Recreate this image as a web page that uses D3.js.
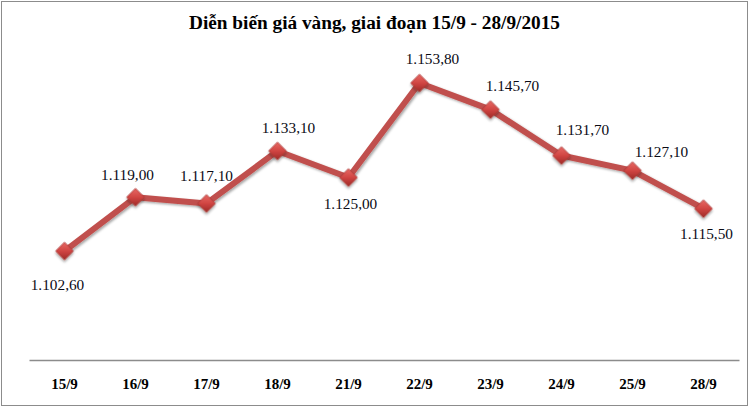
<!DOCTYPE html>
<html>
<head>
<meta charset="utf-8">
<script src="https://cdn.jsdelivr.net/npm/d3@7"></script>
<style>
  body { margin: 0; background: #fff; }
  svg { display: block; }
  svg text { font-family: "Liberation Serif", "Times New Roman", serif; }
</style>
</head>
<body>
<svg id="chart"></svg>
<script>
const dates = ["15/9", "16/9", "17/9", "18/9", "21/9", "22/9", "23/9", "24/9", "25/9", "28/9"];
const prices = [1102.6, 1119.0, 1117.1, 1133.1, 1125.0, 1153.8, 1145.7, 1131.7, 1127.1, 1115.5];
const title = "Diễn biến giá vàng, giai đoạn 15/9 - 28/9/2015";

// where each value label sits relative to its marker (dx, dy to baseline)
const labelOffset = [[-7, 39], [-8, -17], [0, -22], [11, -18], [2, 31], [13, -19], [22, -19], [21, -21], [29, -14], [3, 30]];

const width = 749;
const height = 407;

const svg = d3.select("#chart").attr("width", width).attr("height", height);

const fmt = (v) => {
  const s = d3.format(",.2f")(v);
  return s.replace(/,/g, "#").replace(".", ",").replace(/#/g, ".");
};

// outer frame
svg.append("rect")
  .attr("x", 1.5).attr("y", 1.5)
  .attr("width", width - 3).attr("height", height - 3)
  .attr("fill", "white")
  .attr("stroke", "#8c8c8c")
  .attr("stroke-width", 1);

svg.append("text")
  .attr("x", 189).attr("y", 29)
  .attr("textLength", 371)
  .attr("lengthAdjust", "spacingAndGlyphs")
  .attr("font-weight", "bold")
  .attr("font-size", 18)
  .attr("fill", "#000")
  .text(title);

const x = d3.scaleBand(dates, [29, 739]);
const y = d3.scaleLinear([1070, 1160], [358, 62.7]);
const cx = (d) => x(d) + x.bandwidth() / 2;

// category axis
const axis = svg.append("g")
  .attr("transform", "translate(0,360)")
  .call(d3.axisBottom(x).tickSize(0).tickPadding(0));
axis.attr("font-family", null);
axis.select(".domain").attr("stroke", "#8c8c8c").attr("stroke-width", 1.3);
axis.selectAll("text")
  .attr("y", 29)
  .attr("dy", 0)
  .attr("font-weight", "bold")
  .attr("font-size", 15)
  .attr("fill", "#000");

const rows = dates.map((d, i) => ({ date: d, value: prices[i], off: labelOffset[i] }));

const defs = svg.append("defs");
const grad = defs.append("linearGradient")
  .attr("id", "mk").attr("x1", "0").attr("y1", "0").attr("x2", "1").attr("y2", "1");
grad.append("stop").attr("offset", "0").attr("stop-color", "#e86a66");
grad.append("stop").attr("offset", "0.5").attr("stop-color", "#d04542");
grad.append("stop").attr("offset", "1").attr("stop-color", "#9e2a28");
const shadow = defs.append("filter").attr("id", "sh").attr("x", "-50%").attr("y", "-50%").attr("width", "200%").attr("height", "200%");
shadow.append("feDropShadow").attr("dx", 1.5).attr("dy", 1.5).attr("stdDeviation", 1.2).attr("flood-color", "#000").attr("flood-opacity", 0.35);

const line = d3.line().x((d) => cx(d.date)).y((d) => y(d.value));

svg.append("path")
  .datum(rows)
  .attr("d", line)
  .attr("fill", "none")
  .attr("stroke", "#c0504d")
  .attr("stroke-width", 6)
  .attr("stroke-linejoin", "round")
  .attr("filter", "url(#sh)");

svg.append("g")
  .selectAll("path")
  .data(rows)
  .join("path")
  .attr("d", d3.symbol(d3.symbolSquare, 155))
  .attr("transform", (d) => `translate(${cx(d.date)},${y(d.value)}) rotate(45)`)
  .attr("fill", "url(#mk)")
  .attr("stroke", "#a83532")
  .attr("stroke-width", 0.6)
  .attr("filter", "url(#sh)");

svg.append("g")
  .selectAll("text")
  .data(rows)
  .join("text")
  .attr("x", (d) => cx(d.date) + d.off[0])
  .attr("y", (d) => y(d.value) + d.off[1])
  .attr("text-anchor", "middle")
  .attr("font-size", 15.3)
  .attr("fill", "#0a0a14")
  .text((d) => fmt(d.value));
</script>
</body>
</html>
